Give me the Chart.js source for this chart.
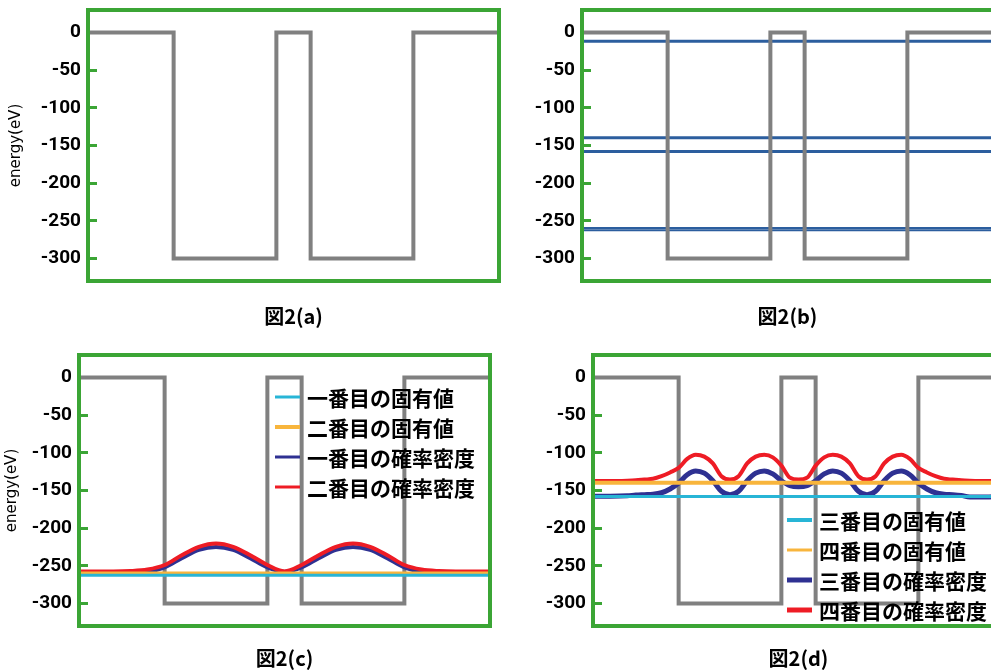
<!DOCTYPE html>
<html>
<head>
<meta charset="utf-8">
<script src="https://cdn.jsdelivr.net/npm/chart.js@4.4.1/dist/chart.umd.min.js"></script>
<style>
  html, body { margin: 0; padding: 0; background: #fff; }
  body { width: 991px; height: 670px; overflow: hidden; position: relative; }
  canvas { position: absolute; }
</style>
</head>
<body>
<canvas id="figA" width="510" height="340" style="left:0;top:0"></canvas>
<canvas id="figB" width="510" height="340" style="left:500px;top:0"></canvas>
<canvas id="figC" width="505" height="340" style="left:0;top:340px"></canvas>
<canvas id="figD" width="520" height="340" style="left:500px;top:340px"></canvas>
<script>
// double well potential (x in arbitrary units, energy in eV)
const potentialX = [0, 25, 25, 55, 55, 65, 65, 95, 95, 120];
const potentialY = [0, 0, -300, -300, 0, 0, -300, -300, 0, 0];

const eigenEnergies = [-262.6, -259.5, -158, -139.6, -11.6];

// probability densities drawn on top of their eigen energy
const densXc = [0, 5, 10, 15, 20, 25, 30, 35, 40, 45, 50, 55, 60, 65, 70, 75, 80, 85, 90, 95, 100, 105, 110, 115, 120];
const density1 = [-261, -261, -261, -260, -258, -252, -240, -229, -225, -229, -240, -252, -258, -252, -240, -229, -225, -229, -240, -252, -258, -260, -261, -261, -261];
const density2 = [-257.5, -257.5, -257.5, -257, -255, -249, -236, -225, -220.5, -225, -236, -249, -257.5, -249, -236, -225, -220.5, -225, -236, -249, -255, -257, -257.5, -257.5, -257.5];

const densXd = [0, 5, 10, 12.5, 15, 17.5, 20, 22.5, 25, 27.5, 30, 32.5, 35, 37.5, 40, 42.5, 45, 47.5, 50, 52.5, 55, 57.5, 60,
  62.5, 65, 67.5, 70, 72.5, 75, 77.5, 80, 82.5, 85, 87.5, 90, 92.5, 95, 97.5, 100, 102.5, 105, 107.5, 110, 115, 120];
const density3 = [-157.5, -157.5, -157, -156, -155.5, -155, -153, -148, -140, -129, -124, -127, -137, -151, -155.5, -151, -137, -127, -124, -128, -137, -143.5, -145,
  -143.5, -137, -128, -124, -127, -137, -151, -155.5, -151, -137, -127, -124, -129, -140, -148, -153, -155, -155.5, -156.5, -158.5, -158.5, -157.5];
const density4 = [-137.5, -137.5, -137, -136.5, -135.5, -134.5, -131, -126, -120, -108, -102.5, -105, -114, -131, -135.5, -131, -114, -105, -102.5, -106, -117, -133, -135.5,
  -133, -117, -106, -102.5, -105, -114, -131, -135.5, -131, -114, -105, -102.5, -108, -120, -126, -131, -134.5, -135.5, -136.5, -137, -137.5, -137.5];

const labelsC = ['一番目の固有値', '二番目の固有値', '一番目の確率密度', '二番目の確率密度'];
const labelsD = ['三番目の固有値', '四番目の固有値', '三番目の確率密度', '四番目の確率密度'];
const panelTitles = ['図2(a)', '図2(b)', '図2(c)', '図2(d)'];

const GREEN = '#3ba535';
const GRAY = '#808080';
const BLUE = '#2c5e9e';
const CYAN = '#28b5d6';
const ORANGE = '#f8b53c';
const NAVY = '#2e3192';
const RED = '#ee1c25';

const toPoints = (xs, ys) => xs.map((x, i) => ({ x: x, y: ys[i] }));
const level = (e) => [{ x: 0, y: e }, { x: 120, y: e }];

const frame = {
  id: 'frame',
  afterDatasetsDraw(chart) {
    const { ctx, chartArea: { left, top, width, height } } = chart;
    ctx.save();
    ctx.strokeStyle = GREEN;
    ctx.lineWidth = 4;
    ctx.strokeRect(left, top, width, height);
    ctx.restore();
  }
};

// simple legend drawn inside the plot, like the original figure
const boxLegend = {
  id: 'boxLegend',
  afterDraw(chart, args, opts) {
    if (!opts || !opts.show) return;
    const { ctx } = chart;
    ctx.save();
    ctx.font = 'bold 21px "Noto Sans CJK JP", sans-serif';
    ctx.textBaseline = 'middle';
    ctx.fillStyle = '#000';
    let row = 0;
    chart.data.datasets.forEach(ds => {
      if (!ds.label) return;
      const y = opts.y + row * opts.rowHeight;
      ctx.beginPath();
      ctx.strokeStyle = ds.borderColor;
      ctx.lineWidth = ds.legendWidth;
      ctx.moveTo(opts.x, y);
      ctx.lineTo(opts.x + 25, y);
      ctx.stroke();
      ctx.fillText(ds.label, opts.x + 32, y + 1);
      row++;
    });
    ctx.restore();
  }
};

function makePanel(id, p) {
  return new Chart(document.getElementById(id), {
    type: 'line',
    data: { datasets: p.datasets },
    options: {
      responsive: false,
      animation: false,
      layout: { padding: { top: p.padTop, right: p.padRight, left: 0, bottom: 0 } },
      elements: { point: { radius: 0 }, line: { fill: false } },
      plugins: {
        legend: { display: false },
        tooltip: { enabled: false },
        boxLegend: p.legend || { show: false }
      },
      scales: {
        x: {
          type: 'linear',
          min: 0,
          max: 120,
          ticks: { display: false },
          grid: { display: false },
          border: { display: false },
          title: {
            display: true,
            text: p.title,
            color: '#000',
            font: { family: '"Noto Sans CJK JP", sans-serif', size: 20, weight: 'bold' },
            padding: { top: 0, bottom: p.titlePad }
          },
          afterFit: (s) => { s.height = p.xHeight; }
        },
        y: {
          type: 'linear',
          min: -330,
          max: 30,
          ticks: {
            stepSize: 50,
            includeBounds: false,
            padding: 16,
            color: '#000',
            font: { family: 'Roboto, sans-serif', size: 19, weight: 'bold' }
          },
          grid: { drawOnChartArea: false, tickLength: -9, tickWidth: 3, tickColor: GREEN },
          border: { display: false },
          title: {
            display: p.yTitle,
            text: 'energy(eV)',
            color: '#000',
            font: { family: '"DejaVu Sans", sans-serif', size: 15 },
            padding: { top: p.yTitlePad, bottom: 0 }
          },
          afterFit: (s) => {
            s.width = p.yWidth;
            s.paddingTop = 0;
            s.paddingBottom = 0;
          }
        }
      }
    },
    plugins: [frame, boxLegend]
  });
}

const potentialLine = (order) => ({
  data: toPoints(potentialX, potentialY),
  borderColor: GRAY,
  borderWidth: 4,
  borderJoinStyle: 'miter',
  order: order
});

makePanel('figA', {
  padTop: 10, padRight: 11, yWidth: 88, xHeight: 59, titlePad: 12, yTitle: true, yTitlePad: 7,
  title: panelTitles[0],
  datasets: [potentialLine(0)]
});

makePanel('figB', {
  padTop: 10, padRight: 17, yWidth: 82, xHeight: 59, titlePad: 12, yTitle: false, yTitlePad: 0,
  title: panelTitles[1],
  datasets: [
    potentialLine(0),
    { data: level(eigenEnergies[4]), borderColor: BLUE, borderWidth: 3, order: 1 },
    { data: level(eigenEnergies[3]), borderColor: BLUE, borderWidth: 3, order: 1 },
    { data: level(eigenEnergies[2]), borderColor: BLUE, borderWidth: 3, order: 1 },
    { data: level(eigenEnergies[1]), borderColor: BLUE, borderWidth: 2, order: 1 },
    { data: level(eigenEnergies[0]), borderColor: BLUE, borderWidth: 2, order: 1 }
  ]
});

makePanel('figC', {
  padTop: 15, padRight: 15, yWidth: 79, xHeight: 54, titlePad: 10, yTitle: true, yTitlePad: 3,
  title: panelTitles[2],
  legend: { show: true, x: 275, y: 57, rowHeight: 30 },
  datasets: [
    { label: labelsC[0], data: level(eigenEnergies[0]), borderColor: CYAN, borderWidth: 3, legendWidth: 3, order: 1 },
    { label: labelsC[1], data: level(eigenEnergies[1]), borderColor: ORANGE, borderWidth: 3, legendWidth: 4, order: 2 },
    { label: labelsC[2], data: toPoints(densXc, density1), borderColor: NAVY, borderWidth: 4, legendWidth: 3, cubicInterpolationMode: 'monotone', order: 4 },
    { label: labelsC[3], data: toPoints(densXc, density2), borderColor: RED, borderWidth: 4, legendWidth: 3, cubicInterpolationMode: 'monotone', order: 3 },
    potentialLine(5)
  ]
});

makePanel('figD', {
  padTop: 15, padRight: 16, yWidth: 93, xHeight: 54, titlePad: 10, yTitle: false, yTitlePad: 0,
  title: panelTitles[3],
  legend: { show: true, x: 287, y: 180, rowHeight: 30 },
  datasets: [
    { label: labelsD[0], data: level(eigenEnergies[2]), borderColor: CYAN, borderWidth: 3, legendWidth: 4, order: 1 },
    { label: labelsD[1], data: level(eigenEnergies[3]), borderColor: ORANGE, borderWidth: 4, legendWidth: 3, order: 2 },
    { label: labelsD[2], data: toPoints(densXd, density3), borderColor: NAVY, borderWidth: 5, legendWidth: 5, cubicInterpolationMode: 'monotone', order: 4 },
    { label: labelsD[3], data: toPoints(densXd, density4), borderColor: RED, borderWidth: 4, legendWidth: 5, cubicInterpolationMode: 'monotone', order: 3 },
    potentialLine(5)
  ]
});
</script>
</body>
</html>
